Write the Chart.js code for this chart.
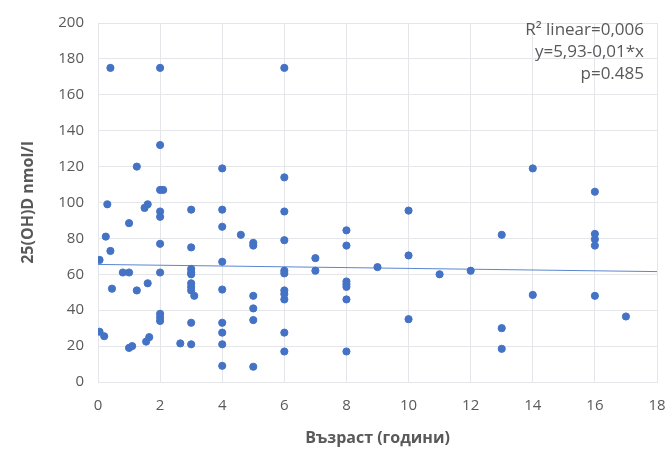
<!DOCTYPE html>
<html>
<head>
<meta charset="utf-8">
<script src="https://cdn.jsdelivr.net/npm/chart.js@4/dist/chart.umd.min.js"></script>
<style>
  html, body { margin: 0; padding: 0; background: #fff; }
  #wrap { width: 666px; height: 452px; position: relative; }
</style>
</head>
<body>
<div id="wrap"><canvas id="vitD"></canvas></div>
<script>
// age in years / 25(OH)D in nmol/l
const ages = [
  0.4, 2, 6, 2, 1.25, 4, 6, 2, 2.1,
  0.3, 1.5, 1.6, 2, 2, 0.25, 1, 0.4, 0.05, 0.8, 1, 2, 2,
  3, 3, 3, 3, 3, 3, 3, 3, 3.1, 3, 3, 2.65,
  0.45, 1.25, 1.6, 2, 2, 2, 0.05, 0.2, 1, 1.1, 1.55, 1.65,
  4, 4, 4, 4, 4, 4, 4, 4, 4.6, 5, 5, 5, 5, 5, 5,
  6, 6, 6, 6, 6, 6, 6, 6, 6,
  7, 7, 8, 8, 8, 8, 8, 8, 8, 9, 10, 10, 10, 11, 12,
  14, 16, 13, 13, 13, 14, 16, 16, 16, 16, 17
];
const levels = [
  175, 175, 175, 132, 120, 119, 114, 107, 107,
  99, 97, 99, 95, 92, 81, 88.5, 73, 68, 61, 61, 77, 61,
  96, 75, 63, 61, 60, 55, 53, 51, 48, 33, 21, 21.5,
  52, 51, 55, 38, 36, 34, 28, 25.5, 19, 20, 22.5, 25,
  96, 86.5, 67, 51.5, 33, 27.5, 21, 9, 82, 77.5, 76, 48, 41, 34.5, 8.5,
  95, 79, 62, 60.5, 51, 49, 46, 27.5, 17,
  69, 62, 84.5, 76, 56, 54.5, 53, 46, 17, 64, 95.5, 70.5, 35, 60, 62,
  119, 106, 82, 30, 18.5, 48.5, 82.5, 79.5, 76, 48, 36.5
];
const trendX = [0, 18];
const trendY = [65.5, 61.5];
const annotation = ["R² linear=0,006", "y=5,93-0,01*x", "p=0.485"];

const grey = "#595959";
const blue = "#4472C4";
const font = "'Open Sans', 'Liberation Sans', sans-serif";

const notePlugin = {
  id: "note",
  afterDraw(chart) {
    const c = chart.ctx;
    const a = chart.chartArea;
    c.save();
    c.font = "17px " + font;
    c.fillStyle = grey;
    c.textAlign = "right";
    c.textBaseline = "middle";
    annotation.forEach((t, i) => c.fillText(t, a.right - 13, a.top + 7 + i * 22));
    c.restore();
  },
};

new Chart(document.getElementById("vitD"), {
  type: "scatter",
  data: {
    datasets: [
      {
        data: ages.map((x, i) => ({ x: x, y: levels[i] })),
        backgroundColor: blue,
        borderColor: blue,
        pointRadius: 3.6,
        pointHoverRadius: 3.6,
      },
      {
        type: "line",
        data: trendX.map((x, i) => ({ x: x, y: trendY[i] })),
        borderColor: "#5b86d0",
        borderWidth: 1,
        pointRadius: 0,
        fill: false,
      },
    ],
  },
  options: {
    responsive: true,
    maintainAspectRatio: false,
    animation: false,
    layout: { padding: { left: 0, right: 9, top: 17, bottom: 0 } },
    plugins: {
      legend: { display: false },
      tooltip: { enabled: false },
    },
    scales: {
      x: {
        min: 0,
        max: 18,
        ticks: { stepSize: 2, color: grey, font: { family: font, size: 15 }, padding: 15 },
        grid: { color: "#e4e6ea", drawTicks: false },
        border: { color: "#e4e6ea" },
        title: {
          display: true,
          text: "Възраст (години)",
          color: grey,
          font: { family: font, size: 16, weight: "bold" },
          padding: { top: 10 },
        },
        afterFit: (s) => {
          s.height = 70;
          s.paddingLeft = 0;
          s.paddingRight = 0;
        },
      },
      y: {
        min: 0,
        max: 200,
        ticks: { stepSize: 20, color: grey, font: { family: font, size: 15 }, padding: 14 },
        grid: { color: "#e4e6ea", drawTicks: false },
        border: { color: "#e4e6ea" },
        title: {
          display: true,
          text: "25(OH)D nmol/l",
          color: grey,
          font: { family: font, size: 16, weight: "bold" },
          padding: { top: 19, bottom: 0 },
        },
        afterFit: (s) => { s.width = 98; },
      },
    },
  },
  plugins: [notePlugin],
});
</script>
</body>
</html>
